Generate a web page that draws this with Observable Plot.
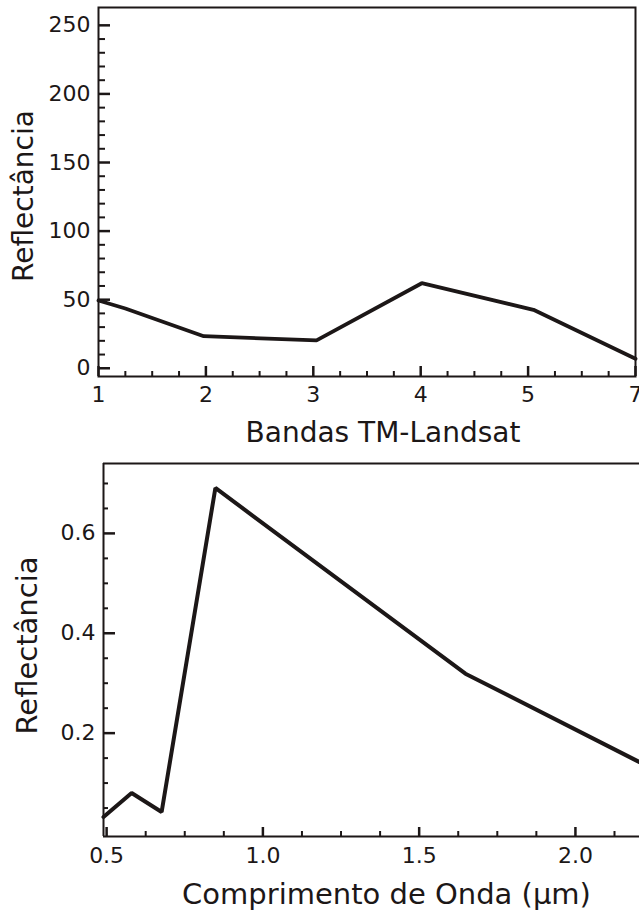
<!DOCTYPE html>
<html>
<head>
<meta charset="utf-8">
<script src="https://cdn.jsdelivr.net/npm/d3@7"></script>
<script src="https://cdn.jsdelivr.net/npm/@observablehq/plot@0.6"></script>
<style>
  html, body { margin: 0; padding: 0; background: #fff; overflow: hidden; }
  #chart svg { display: block; }
  #chart svg g[aria-label$="tick label"] text { font-size: 22px !important; }
</style>
</head>
<body>
<div id="chart"></div>
<script>
// ---------- Data: upper chart (TM-Landsat bands) ----------
const bandPositions    = [1, 1.25, 1.98, 3.03, 4.01, 5.05, 6];
const bandReflectance  = [49.4, 43.6, 23.4, 20.3, 62.0, 42.6, 6.9];
const bandTickPositions = [1, 2, 3, 4, 5, 6];
const bandTickLabels    = ["1", "2", "3", "4", "5", "7"];
const reflMajorTicks    = [0, 50, 100, 150, 200, 250];

// ---------- Data: lower chart (wavelength) ----------
const wavelengths         = [0.49, 0.58, 0.676, 0.848, 1.648, 2.205];
const spectralReflectance = [0.032, 0.080, 0.042, 0.691, 0.319, 0.142];
const waveMajorTicks      = [0.5, 1.0, 1.5, 2.0];
const waveTickLabels      = ["0.5", "1.0", "1.5", "2.0"];
const specMajorTicks      = [0.2, 0.4, 0.6];
const specTickLabels      = ["0.2", "0.4", "0.6"];

const ink = "#1c1717";

// minor tick positions
const bandMinorTicks = d3.range(1, 6, 0.25).filter(v => !Number.isInteger(v));
const reflMinorTicks = d3.range(10, 250, 10).filter(v => v % 50 !== 0);
const waveMinorTicks = d3.range(0, 14).map(i => 0.5 + 0.125 * i).filter(v => Math.abs(v * 2 - Math.round(v * 2)) > 1e-6);
const specMinorTicks = [0.05, 0.1, 0.15, 0.25, 0.3, 0.35, 0.45, 0.5, 0.55, 0.65, 0.7];

const bandTable = bandPositions.map((b, i) => ({b, r: bandReflectance[i]}));
const waveTable = wavelengths.map((w, i) => ({w, r: spectralReflectance[i]}));

const baseStyle = {fontFamily: "DejaVu Sans", fontSize: "22px", color: ink, background: "#fff"};

// inward ticks: a tick spanning the frame, inset so that only `len` pixels remain
function ticksX(values, len, plotH, sw) {
  return Plot.tickX(values, {x: d => d, insetTop: plotH - len, stroke: ink, strokeWidth: sw});
}
function ticksY(values, len, plotW, sw) {
  return Plot.tickY(values, {y: d => d, insetRight: plotW - len, stroke: ink, strokeWidth: sw});
}

// upper chart geometry
const T = {width: 639, height: 450, ml: 98, mr: 4, mt: 7, mb: 74};
const tW = T.width - T.ml - T.mr, tH = T.height - T.mt - T.mb;

const topPlot = Plot.plot({
  width: T.width, height: T.height,
  marginLeft: T.ml, marginRight: T.mr, marginTop: T.mt, marginBottom: T.mb,
  style: baseStyle,
  x: {domain: [1, 6]},
  y: {domain: [-6, 263]},
  marks: [
    ticksX(bandMinorTicks, 5, tH, 2),
    ticksX(bandTickPositions, 10, tH, 2.5),
    ticksY(reflMinorTicks, 7, tW, 2),
    ticksY(reflMajorTicks, 12, tW, 2.5),
    Plot.frame({stroke: ink, strokeWidth: 2}),
    Plot.axisX(bandTickPositions, {tickSize: 0, tickPadding: 10, fontSize: 22,
      tickFormat: d => bandTickLabels[bandTickPositions.indexOf(d)], label: null}),
    Plot.axisY(reflMajorTicks, {tickSize: 0, tickPadding: 8, fontSize: 22,
      tickFormat: d => String(d), label: null}),
    Plot.line(bandTable, {x: "b", y: "r", stroke: ink, strokeWidth: 3.8, strokeLinejoin: "miter"}),
    Plot.text(["Reflectância"], {text: d => d, frameAnchor: "left", rotate: -90, dx: -66, dy: 4,
      textAnchor: "middle", lineAnchor: "bottom", fontSize: 28, fill: ink}),
    Plot.text(["Bandas TM-Landsat"], {text: d => d, frameAnchor: "bottom", dx: 16, dy: 65,
      textAnchor: "middle", lineAnchor: "bottom", fontSize: 28, fill: ink})
  ]
});

// lower chart geometry
const B = {width: 639, height: 460, ml: 103, mr: 0, mt: 13, mb: 74};
const bW = B.width - B.ml - B.mr, bH = B.height - B.mt - B.mb;
const xDom = [0.49, 2.205];
const yDom = [-0.007, 0.74];

const bottomPlot = Plot.plot({
  width: B.width, height: B.height,
  marginLeft: B.ml, marginRight: B.mr, marginTop: B.mt, marginBottom: B.mb,
  style: baseStyle,
  x: {domain: xDom},
  y: {domain: yDom},
  marks: [
    ticksX(waveMinorTicks, 5, bH, 2),
    ticksX(waveMajorTicks, 9, bH, 2.5),
    ticksY(specMinorTicks, 5, bW, 2),
    ticksY(specMajorTicks, 12, bW, 2.5),
    Plot.ruleX([xDom[0]], {stroke: ink, strokeWidth: 2}),
    Plot.ruleY(yDom, {stroke: ink, strokeWidth: 2}),
    Plot.axisX(waveMajorTicks, {tickSize: 0, tickPadding: 11, fontSize: 22,
      tickFormat: d => waveTickLabels[waveMajorTicks.indexOf(d)], label: null}),
    Plot.axisY(specMajorTicks, {tickSize: 0, tickPadding: 8, fontSize: 22,
      tickFormat: d => specTickLabels[specMajorTicks.indexOf(d)], label: null}),
    Plot.line(waveTable, {x: "w", y: "r", stroke: ink, strokeWidth: 4, strokeLinejoin: "miter"}),
    Plot.text(["Reflectância"], {text: d => d, frameAnchor: "left", rotate: -90, dx: -67, dy: -4.5,
      textAnchor: "middle", lineAnchor: "bottom", fontSize: 29, fill: ink}),
    Plot.text(["Comprimento de Onda (μm)"], {text: d => d, frameAnchor: "bottom", dx: 15, dy: 67,
      textAnchor: "middle", lineAnchor: "bottom", fontSize: 29, fill: ink})
  ]
});

const chart = document.getElementById("chart");
chart.appendChild(topPlot);
chart.appendChild(bottomPlot);
</script>
</body>
</html>
